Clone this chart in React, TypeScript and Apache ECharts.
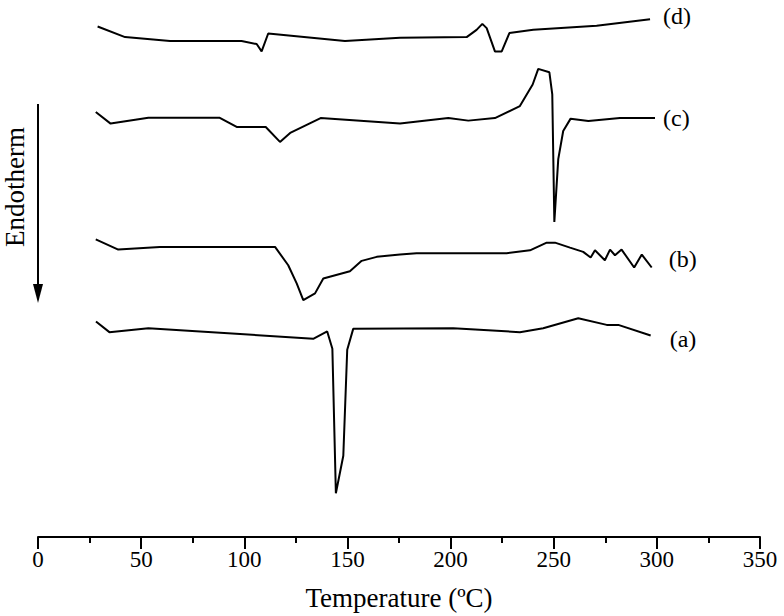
import React, { useEffect, useRef } from "react";
import * as echarts from "echarts";

// Temperature (°C) and offset heat-flow signal (arbitrary units) for each DSC curve
const tempA = [28.1, 34.6, 53.5, 133.4, 140.2, 142.7, 144.4, 148.0, 149.9, 152.8, 201.3, 233.6, 244.9, 261.9, 275.7, 281.3, 297.0];
const sigA = [216.7, 206, 210, 199.3, 206.7, 189.3, 44, 81.7, 188.3, 209.3, 210, 206, 210, 220, 213.3, 213.3, 202.7];

const tempB = [28.0, 38.9, 59.1, 114.9, 121.3, 125.4, 128.6, 134.3, 138.3, 151.2, 156.9, 164.2, 175.5, 183.5, 227.2, 238.5, 246.6, 250.6, 257.9, 264.3, 267.9, 270.0, 274.8, 277.3, 279.7, 282.9, 289.0, 292.7, 297.5];
const sigB = [299.3, 289, 291.7, 291.7, 273.3, 255, 238.3, 245, 260, 267.3, 277.7, 281.7, 284, 285.3, 285.3, 288.3, 296, 296, 291, 286.7, 281, 288.3, 278.3, 289, 283.3, 289, 271, 284, 271];

const tempC = [28.0, 35.2, 53.5, 87.9, 96.3, 110.4, 117.3, 122.5, 137.0, 175.5, 198.9, 208.6, 221.5, 233.6, 239.8, 242.5, 247.9, 249.3, 250.3, 252.2, 254.6, 258.2, 266.8, 282.1, 299.1];
const sigC = [427.3, 415.7, 421.7, 421.7, 412.3, 412.3, 397.3, 406.7, 421.3, 415.7, 421.3, 418.7, 421.3, 433.3, 455, 470.7, 467.3, 445, 316.7, 380, 408.3, 420.7, 418.3, 421.3, 421.3];

const tempD = [28.9, 42.2, 64.0, 98.7, 106.0, 108.4, 111.6, 148.8, 175.5, 207.8, 212.6, 215.4, 217.5, 221.5, 224.8, 228.5, 240.1, 270.8, 296.7];
const sigD = [513.3, 502.7, 498.7, 498.7, 495.7, 488.3, 506.3, 498.7, 502, 502.7, 510, 516, 511.7, 488.3, 488.3, 506.7, 510, 514, 520.7];

const curveLabels = ["(a)", "(b)", "(c)", "(d)"];
const xTicks = { min: 0, max: 350, interval: 50 };

const FONT = "'Liberation Serif', 'Times New Roman', serif";

function zip(t: number[], s: number[]) {
  return t.map((v, i) => [v, s[i]]);
}

export default function App() {
  const ref = useRef<HTMLDivElement>(null);

  useEffect(() => {
    if (!ref.current) return;
    const chart = echarts.init(ref.current, null, { renderer: "svg" });

    const curves = [
      { data: zip(tempA, sigA), label: curveLabels[0], distance: 19, offset: [0, 4] },
      { data: zip(tempB, sigB), label: curveLabels[1], distance: 17, offset: [0, -9] },
      { data: zip(tempC, sigC), label: curveLabels[2], distance: 8, offset: [0, 0] },
      { data: zip(tempD, sigD), label: curveLabels[3], distance: 13, offset: [0, -3] },
    ];

    chart.setOption({
      animation: false,
      backgroundColor: "#ffffff",
      grid: { left: 38, right: 24, top: 0, bottom: 76, containLabel: false },
      xAxis: {
        type: "value",
        min: xTicks.min,
        max: xTicks.max,
        interval: xTicks.interval,
        name: "Temperature (\u00BAC)",
        nameLocation: "middle",
        nameGap: 47,
        nameTextStyle: { color: "#000", fontFamily: FONT, fontSize: 27 },
        axisLine: { show: true, lineStyle: { color: "#000", width: 2 } },
        axisTick: { show: true, inside: false, length: 12, lineStyle: { color: "#000", width: 2 } },
        minorTick: { show: true, splitNumber: 2, length: 6, lineStyle: { color: "#000", width: 2 } },
        axisLabel: { color: "#000", fontFamily: FONT, fontSize: 23, margin: 11 },
        splitLine: { show: false },
      },
      yAxis: {
        type: "value",
        min: 0,
        max: 540,
        show: false,
      },
      series: curves.map((c) => ({
        type: "line",
        data: c.data,
        symbol: "none",
        lineStyle: { color: "#000", width: 2 },
        endLabel: {
          show: true,
          formatter: c.label,
          color: "#000",
          fontFamily: FONT,
          fontSize: 24,
          distance: c.distance,
          offset: c.offset,
        },
      })),
      graphic: [
        {
          type: "line",
          shape: { x1: 38, y1: 104, x2: 38, y2: 290 },
          style: { stroke: "#000", lineWidth: 2 },
        },
        {
          type: "polygon",
          shape: { points: [[33, 284], [43, 284], [38, 303]] },
          style: { fill: "#000" },
        },
        {
          type: "text",
          x: 15,
          y: 187,
          rotation: Math.PI / 2,
          style: {
            text: "Endotherm",
            fill: "#000",
            font: `27px ${FONT}`,
            align: "center",
            verticalAlign: "middle",
          },
        },
      ],
    });

    return () => chart.dispose();
  }, []);

  return (
    <div
      ref={ref}
      style={{ position: "absolute", left: 0, top: 0, width: 784, height: 616 }}
    />
  );
}
